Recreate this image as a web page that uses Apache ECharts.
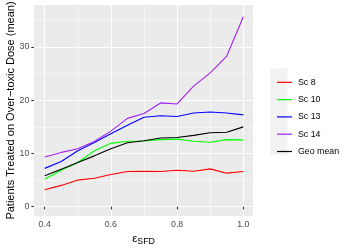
<!DOCTYPE html>
<html>
<head>
<meta charset="utf-8">
<script src="https://cdn.jsdelivr.net/npm/echarts@6/dist/echarts.min.js"></script>
<style>
html,body{margin:0;padding:0;background:#fff;}
#c{width:349px;height:249px;}
</style>
</head>
<body>
<div id="c"></div>
<script>
const eps = [0.4, 0.45, 0.5, 0.55, 0.6, 0.65, 0.7, 0.75, 0.8, 0.85, 0.9, 0.95, 1.0];
const sc8 = [3.2, 4.0, 5.0, 5.35, 6.05, 6.6, 6.65, 6.6, 6.85, 6.65, 7.1, 6.3, 6.6];
const sc10 = [5.15, 6.85, 8.3, 10.5, 11.9, 12.3, 12.35, 12.6, 12.7, 12.3, 12.1, 12.6, 12.55];
const sc13 = [7.2, 8.5, 10.5, 12.05, 13.7, 15.3, 16.8, 17.1, 16.95, 17.6, 17.8, 17.6, 17.25];
const sc14 = [9.35, 10.2, 10.9, 12.25, 14.2, 16.6, 17.5, 19.5, 19.3, 22.65, 25.15, 28.3, 35.7];
const geoMean = [5.8, 7.05, 8.3, 9.55, 10.9, 12.0, 12.4, 12.9, 13.0, 13.4, 13.9, 14.0, 15.0];
const seriesNames = ['Sc 8', 'Sc 10', 'Sc 13', 'Sc 14', 'Geo mean'];
const xMajorTicks = [0.4, 0.6, 0.8, 1.0];
const xMinorTicks = [0.5, 0.7, 0.9];
const yMajorTicks = [0, 10, 20, 30];
const yMinorTicks = [5, 15, 25, 35];

const colors = ['#FF0000', '#00FF00', '#0000FF', '#A020F0', '#000000'];
const allData = [sc8, sc10, sc13, sc14, geoMean];

const X_MIN = 0.3677, X_MAX = 1.0293, Y_MIN = -1.75, Y_MAX = 37.9;
const tickColor = '#333333';
const labelColor = '#4D4D4D';
const font = 'Liberation Sans, Arial, Helvetica, sans-serif';

const chart = echarts.init(document.getElementById('c'), null, {renderer: 'canvas'});

function majorX() {
  return {
    type: 'value', min: X_MIN, max: X_MAX, position: 'bottom',
    name: '{e|ε}{s|SFD}', nameLocation: 'middle', nameGap: 15, nameMoveOverlap: false,
    nameTextStyle: {
      rich: {
        e: {fontSize: 11.5, color: '#000', fontFamily: font},
        s: {fontSize: 8.8, color: '#000', fontFamily: font, padding: [6, 0, 0, 0]}
      }
    },
    axisLine: {show: false},
    axisTick: {show: true, length: 2.7, customValues: xMajorTicks, lineStyle: {color: tickColor, width: 1.07}},
    axisLabel: {customValues: xMajorTicks, margin: 4.5, color: labelColor, fontSize: 8.8, fontFamily: font,
      formatter: v => v.toFixed(1)},
    splitLine: {show: true, lineStyle: {color: '#FFFFFF', width: 1.07}},
    minorSplitLine: {show: false}
  };
}
function minorX() {
  return {
    type: 'value', min: X_MIN, max: X_MAX, position: 'bottom',
    axisLine: {show: false},
    axisTick: {show: false, customValues: xMinorTicks},
    axisLabel: {show: false, customValues: xMinorTicks},
    splitLine: {show: true, lineStyle: {color: '#FFFFFF', width: 0.53}}
  };
}
function majorY() {
  return {
    type: 'value', min: Y_MIN, max: Y_MAX, position: 'left',
    name: 'Patients Treated on Over\u2212toxic Dose (mean)', nameLocation: 'middle', nameGap: 18, nameMoveOverlap: false,
    nameTextStyle: {fontSize: 11, color: '#000', fontFamily: font},
    axisLine: {show: false},
    axisTick: {show: true, length: 2.7, customValues: yMajorTicks, lineStyle: {color: tickColor, width: 1.07}},
    axisLabel: {customValues: yMajorTicks, margin: 4.7, color: labelColor, fontSize: 8.8, fontFamily: font},
    splitLine: {show: true, lineStyle: {color: '#FFFFFF', width: 1.07}}
  };
}
function minorY() {
  return {
    type: 'value', min: Y_MIN, max: Y_MAX, position: 'left',
    axisLine: {show: false},
    axisTick: {show: false, customValues: yMinorTicks},
    axisLabel: {show: false, customValues: yMinorTicks},
    splitLine: {show: true, lineStyle: {color: '#FFFFFF', width: 0.53}}
  };
}

const option = {
  animation: false,
  backgroundColor: '#FFFFFF',
  grid: {left: 34, right: 96, top: 5, bottom: 33, show: true, backgroundColor: '#EBEBEB', borderWidth: 0, containLabel: false, outerBoundsMode: 'none'},
  graphic: [{
    type: 'rect', left: 270, top: 68.6, shape: {width: 17.5, height: 86.4}, style: {fill: '#F2F2F2'}, z: -1
  }],
  legend: {
    orient: 'vertical', left: 272, top: 71.3,
    icon: 'rect', itemWidth: 15, itemHeight: 1.2, itemGap: 5.3,
    data: seriesNames,
    textStyle: {fontSize: 8.8, color: '#000', fontFamily: font, lineHeight: 12, padding: [0, 0, 0, 1]}
  },
  xAxis: [majorX(), minorX()],
  yAxis: [majorY(), minorY()],
  series: seriesNames.map((n, i) => ({
    name: n, type: 'line', xAxisIndex: 0, yAxisIndex: 0,
    data: eps.map((x, j) => [x, allData[i][j]]),
    symbol: 'none', smooth: false,
    lineStyle: {color: colors[i], width: 1.1},
    itemStyle: {color: colors[i]},
    z: 3
  }))
};
chart.setOption(option);
</script>
</body>
</html>
